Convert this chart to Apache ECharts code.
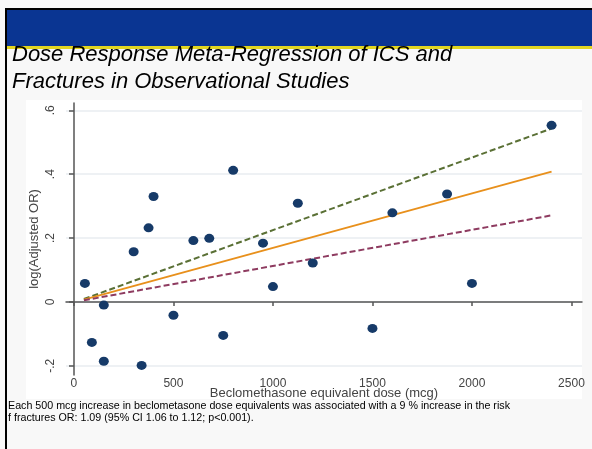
<!DOCTYPE html>
<html>
<head>
<meta charset="utf-8">
<title>Dose Response Meta-Regression</title>
<script src="https://cdn.jsdelivr.net/npm/echarts@6/dist/echarts.min.js"></script>
<style>
  html, body { margin: 0; padding: 0; background: #f8f8f8; }
  #main { width: 592px; height: 449px; }
</style>
</head>
<body>
<div id="main"></div>
<script type="text/javascript">
// study points: beclomethasone equivalent dose (mcg) and log(adjusted OR)
var doses = [55, 90, 150, 150, 340, 300, 375, 400, 500, 600, 680, 750, 800, 950, 1000, 1125, 1200, 1500, 1600, 1875, 2000, 2400];
var logOR = [0.058, -0.127, -0.01, -0.186, -0.199, 0.157, 0.232, 0.33, -0.042, 0.192, 0.199, -0.105, 0.412, 0.184, 0.048, 0.309, 0.122, -0.083, 0.279, 0.338, 0.058, 0.553];

// fitted line and its confidence bounds (end points)
var fitDose = [50, 2400];
var fitMid = [0.007, 0.408];
var fitUpper = [0.009, 0.543];
var fitLower = [0.005, 0.271];

var xTicks = [0, 500, 1000, 1500, 2000, 2500];
var yTicks = [-0.2, 0, 0.2, 0.4, 0.6];
var yTickLabels = ['-.2', '0', '.2', '.4', '.6'];

var titleLines = ['Dose Response Meta-Regression of ICS and', 'Fractures in Observational Studies'];
var noteLines = [
  'Each 500 mcg increase in beclometasone dose equivalents was associated with a 9 % increase in the risk',
  'f fractures OR: 1.09 (95% CI 1.06 to 1.12; p<0.001).'
];

function pairs(xs, ys) {
  return xs.map(function (x, i) { return [x, ys[i]]; });
}

var font = '"Liberation Sans", Arial, sans-serif';
var chart = echarts.init(document.getElementById('main'));

var option = {
  backgroundColor: '#f8f8f8',
  animation: false,
  graphic: [
    { type: 'rect', z: -10, shape: { x: 26, y: 100, width: 556, height: 299 }, style: { fill: '#ffffff' } },
    { type: 'rect', shape: { x: 6, y: 8, width: 586, height: 2 }, style: { fill: '#000000' } },
    { type: 'rect', shape: { x: 7, y: 10, width: 585, height: 36 }, style: { fill: '#0a3592' } },
    { type: 'rect', shape: { x: 7, y: 46, width: 585, height: 3 }, style: { fill: '#e2d620' } },
    { type: 'rect', shape: { x: 5, y: 8, width: 2, height: 441 }, style: { fill: '#000000' } },
    { type: 'text', x: 12, y: 66, style: { text: titleLines[0], font: 'italic 22px ' + font, fill: '#000', textVerticalAlign: 'bottom' } },
    { type: 'text', x: 12, y: 93, style: { text: titleLines[1], font: 'italic 22px ' + font, fill: '#000', textVerticalAlign: 'bottom' } },
    { type: 'text', x: 8, y: 406, style: { text: noteLines[0], font: '10.7px ' + font, fill: '#000', textVerticalAlign: 'middle' } },
    { type: 'text', x: 8, y: 418, style: { text: noteLines[1], font: '10.7px ' + font, fill: '#000', textVerticalAlign: 'middle' } }
  ],
  grid: { left: 66, right: 10, top: 103, bottom: 74 },
  xAxis: {
    type: 'value',
    min: -40,
    max: 2553,
    name: 'Beclomethasone equivalent dose (mcg)',
    nameLocation: 'middle',
    nameGap: 12,
    nameMoveOverlap: false,
    nameTextStyle: { fontFamily: font, fontSize: 13, color: '#444', verticalAlign: 'top' },
    axisLine: { show: true, lineStyle: { color: '#555', width: 1.5 } },
    axisTick: { show: true, length: 4, customValues: xTicks, lineStyle: { color: '#555', width: 1.5 } },
    axisLabel: {
      customValues: xTicks,
      margin: 3,
      fontFamily: font,
      fontSize: 12,
      color: '#444',
      formatter: function (v) { return String(v); }
    },
    splitLine: { show: false }
  },
  yAxis: {
    type: 'value',
    min: -0.229,
    max: 0.623,
    name: 'log(Adjusted OR)',
    nameLocation: 'middle',
    nameGap: 25,
    nameMoveOverlap: false,
    nameTextStyle: { fontFamily: font, fontSize: 13, color: '#444' },
    axisLine: { show: true, lineStyle: { color: '#555', width: 1.5 } },
    axisTick: { show: true, length: 5, customValues: yTicks, lineStyle: { color: '#555', width: 1.5 } },
    axisLabel: {
      customValues: yTicks,
      rotate: 90,
      margin: 9,
      fontFamily: font,
      fontSize: 12,
      color: '#444',
      formatter: function (v) {
        var i = yTicks.findIndex(function (t) { return Math.abs(t - v) < 1e-9; });
        return i >= 0 ? yTickLabels[i] : '';
      }
    },
    splitLine: { show: true, lineStyle: { color: '#e9edf1', width: 1.5 } }
  },
  series: [
    {
      name: 'upper',
      type: 'line',
      data: pairs(fitDose, fitUpper),
      showSymbol: false,
      lineStyle: { color: '#5a7035', width: 2, type: [6, 3] },
      z: 2
    },
    {
      name: 'fit',
      type: 'line',
      data: pairs(fitDose, fitMid),
      showSymbol: false,
      lineStyle: { color: '#e8901c', width: 2 },
      z: 2
    },
    {
      name: 'lower',
      type: 'line',
      data: pairs(fitDose, fitLower),
      showSymbol: false,
      lineStyle: { color: '#8e3b60', width: 2, type: [6, 3] },
      z: 2
    },
    {
      name: 'studies',
      type: 'scatter',
      data: pairs(doses, logOR),
      symbolSize: [10, 9],
      itemStyle: { color: '#163a68', opacity: 1 },
      z: 3
    }
  ]
};
chart.setOption(option);
</script>
</body>
</html>
